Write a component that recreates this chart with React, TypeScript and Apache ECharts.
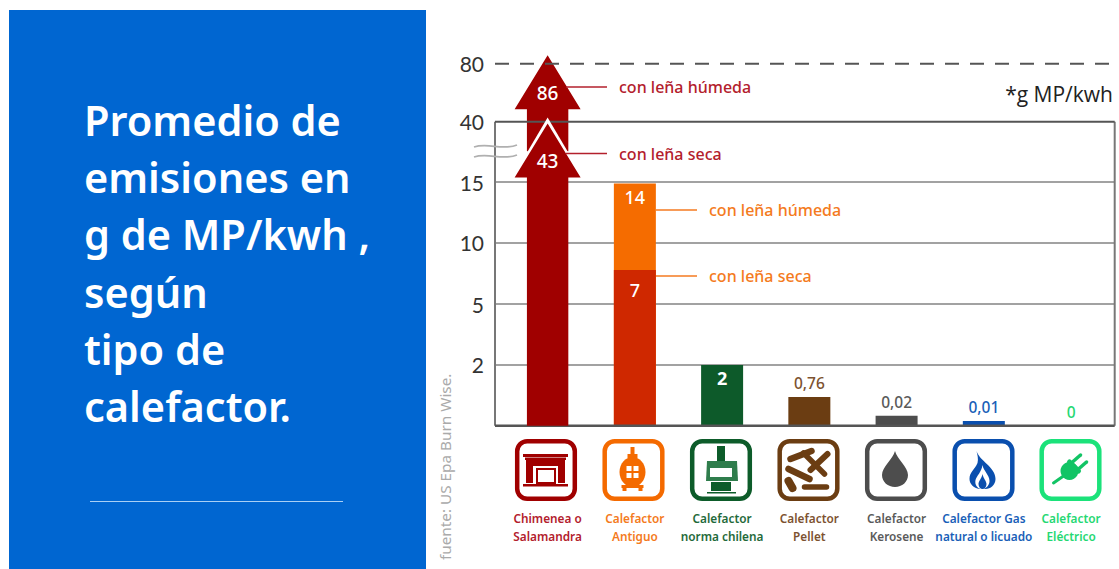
import React, { useEffect, useRef } from "react";
import * as echarts from "echarts";

// Heater types on the horizontal axis
const categories = [
  "Chimenea o\nSalamandra",
  "Calefactor\nAntiguo",
  "Calefactor\nnorma chilena",
  "Calefactor\nPellet",
  "Calefactor\nKerosene",
  "Calefactor Gas\nnatural o licuado",
  "Calefactor\nEléctrico",
];

// Emissions in g MP/kWh
const chimneyArrows = [86, 43];
const wetWoodBars = [null, 14, null, null, null, null, null];
const dryWoodBars = [null, 7, 2, 0.76, 0.02, 0.01, 0];
const tickLabels = [0, 2, 5, 10, 15, 40, 80];

const barColors = ["#a00000", "#cf2800", "#0d5a2a", "#6b3d12", "#4d4d4d", "#0a4fae", "#1fe07a"];
const captionColors = ["#b3202c", "#f47a20", "#1f6a3a", "#7d5230", "#5a5a5a", "#1a5fb8", "#25d872"];
const iconColors = ["#a00000", "#f46a00", "#0d5c2a", "#6b3d12", "#4d4d4d", "#0a4fae", "#1be27a"];

const titleLines = ["Promedio de", "emisiones en", "g de MP/kwh ,", "según", "tipo de", "calefactor."];

// The axis is hand-warped: equal steps for unequal values. Each knot maps a value to axis units.
const scaleKnots: [number, number][] = [
  [0, 0], [0.01, 0.078], [0.02, 0.166], [0.76, 0.476], [2, 1.007], [5, 2.018], [7, 2.582],
  [10, 3.03], [14, 4.015], [15, 4.04], [40, 5.04], [80, 6],
];
function warp(v: number): number {
  for (let i = 1; i < scaleKnots.length; i++) {
    const [a, ua] = scaleKnots[i - 1];
    const [b, ub] = scaleKnots[i];
    if (v <= b || i === scaleKnots.length - 1) return ua + ((v - a) / (b - a)) * (ub - ua);
  }
  return 0;
}

const FONT = '"Noto Sans", sans-serif';
const decimal = (v: number) => String(v).replace(".", ",");

function gridLineItem(stroke: string, width: number, dash?: number[]) {
  return (params: any, api: any) => {
    const y = api.coord([0, api.value(1)])[1];
    const cs = params.coordSys;
    return {
      type: "line",
      shape: { x1: cs.x - 9, y1: y, x2: cs.x + cs.width, y2: y },
      style: { stroke, lineWidth: width, lineDash: dash },
    };
  };
}

// Chimney arrow: the upper one ends in a plain shaft, the lower one carries a white chevron.
function arrowItem(params: any, api: any) {
  const [cx, tipRaw] = api.coord([api.value(0), api.value(1)]);
  const raw = api.value(2);
  const baseline = api.coord([0, 0])[1];
  const headW = 33, shaftW = 20.7, headH = 56;
  const isUpper = params.dataIndex === 0;
  const tip = isUpper ? tipRaw : tipRaw + 6;
  const bottom = isUpper ? tip + 96 : baseline;
  const children: any[] = [];
  if (!isUpper) {
    children.push({
      type: "polygon",
      shape: { points: [[cx, tipRaw], [cx + headW, tipRaw + headH], [cx - headW, tipRaw + headH]] },
      style: { fill: "#ffffff" },
    });
  }
  children.push({
    type: "polygon",
    shape: {
      points: [
        [cx, tip], [cx + headW, tip + headH - 2], [cx + shaftW, tip + headH - 2], [cx + shaftW, bottom],
        [cx - shaftW, bottom], [cx - shaftW, tip + headH - 2], [cx - headW, tip + headH - 2],
      ],
    },
    style: { fill: "#a00000" },
  });
  children.push({
    type: "text",
    style: {
      text: String(raw), x: cx, y: tip + 38, align: "center", verticalAlign: "middle",
      fill: "#ffffff", font: `500 19px ${FONT}`,
    },
  });
  return { type: "group", children };
}

function frameItem(params: any, api: any) {
  const cs = params.coordSys;
  const top = api.coord([0, api.value(1)])[1];
  const bottom = api.coord([0, 0])[1];
  const line = (x: number) => ({
    type: "line",
    shape: { x1: x, y1: top, x2: x, y2: bottom },
    style: { stroke: "#777777", lineWidth: 2 },
  });
  return { type: "group", children: [line(cs.x - 9), line(cs.x + cs.width)] };
}

echarts.graphic.registerShape(
  "heaterDrop",
  echarts.graphic.extendPath("M30 12 C32 20 43 28 43 36 C43 43 37 48 30 48 C23 48 17 43 17 36 C17 28 28 20 30 12 Z", {})
);
echarts.graphic.registerShape(
  "flameOuter",
  echarts.graphic.extendPath("M24 12 C27 22 43 28 43 40 C43 46 38 50 33 50 L27 50 C21 49 17 45 17 40 C17 33 22 31 25 24 C26 20 25 16 24 12 Z", {})
);
echarts.graphic.registerShape(
  "flameMiddle",
  echarts.graphic.extendPath("M30 26 C31 32 37 36 37 42 C37 46 34 49 31 50 L28 50 C25 49 22 46 23 41 C24 37 29 33 30 26 Z", {})
);
echarts.graphic.registerShape(
  "flameInner",
  echarts.graphic.extendPath("M30 35 C31 40 34 42 34 45 C34 48 32 50 30 50 C28 50 26 48 26 45 C26 42 29 40 30 35 Z", {})
);

const rect = (x: number, y: number, width: number, height: number, fill: string, r = 0) => ({
  type: "rect", shape: { x, y, width, height, r }, style: { fill },
});
const stick = (x1: number, y1: number, x2: number, y2: number, stroke: string, lineWidth: number) => ({
  type: "line", shape: { x1, y1, x2, y2 }, style: { stroke, lineWidth, lineCap: "round" },
});

// Pictograms in a 62×62 box
const iconDrawings: ((c: string) => any[])[] = [
  (c) => [
    rect(8, 15, 45, 3, c),
    rect(10, 18.5, 41, 2.5, c),
    rect(11, 21, 7, 23, c),
    rect(43, 21, 7, 23, c),
    rect(18, 21, 25, 6, c),
    { type: "rect", shape: { x: 22, y: 30, width: 18, height: 14 }, style: { fill: "none", stroke: c, lineWidth: 2 } },
    rect(8, 45, 45, 2.5, c),
  ],
  (c) => [
    rect(28, 8, 4, 8, c),
    rect(25, 15, 10, 4, c),
    { type: "ellipse", shape: { cx: 30, cy: 33, rx: 13, ry: 15 }, style: { fill: c } },
    rect(24, 27, 5, 5, "#ffffff"), rect(31, 27, 5, 5, "#ffffff"),
    rect(24, 34, 5, 5, "#ffffff"), rect(31, 34, 5, 5, "#ffffff"),
    rect(19, 46, 22, 3, c),
    rect(20, 49, 4, 3, c), rect(36, 49, 4, 3, c),
  ],
  (c) => [
    rect(27, 7, 8, 15, c),
    { type: "polygon", shape: { points: [[17, 22], [47, 22], [48, 42], [16, 42]] }, style: { fill: "#2f7d4c" } },
    rect(20, 29, 22, 9, "#ffffff"),
    rect(21, 43, 20, 9, c),
    rect(17, 53, 29, 1.5, c),
  ],
  (c) => [
    stick(13, 20, 34, 12, c, 6.5),
    stick(33, 31, 50, 15, c, 6),
    stick(26, 14, 47, 35, c, 5.5),
    stick(11, 30, 32, 40, c, 6.5),
    stick(11, 42, 15, 49, c, 8),
    stick(27, 48, 49, 48, c, 5.5),
  ],
  (c) => [{ type: "heaterDrop", x: 0, y: 0, style: { fill: c } }],
  (c) => [
    { type: "flameOuter", x: 0, y: 0, style: { fill: c } },
    { type: "flameMiddle", x: 0, y: 0, style: { fill: "#ffffff" } },
    { type: "flameInner", x: 0, y: 0, style: { fill: c } },
  ],
  () => {
    const c = "#12c465";
    return [
      stick(14, 44, 24, 37, c, 3),
      { type: "circle", shape: { cx: 30, cy: 32, r: 9 }, style: { fill: c } },
      stick(30, 23, 39, 32, c, 5),
      stick(33, 23, 41, 16, c, 3.5),
      stick(39, 30, 47, 23, c, 3.5),
    ];
  },
];

const iconCenters = [546, 633.5, 721, 808.5, 896, 983.5, 1070.5];
const iconTop = 439;

const iconGraphics = iconDrawings.map((draw, i) => ({
  type: "group",
  x: iconCenters[i] - 31,
  y: iconTop,
  z: 10,
  children: [
    {
      type: "rect",
      shape: { x: 2.2, y: 2.2, width: 57.6, height: 57.6, r: 10 },
      style: { fill: "#ffffff", stroke: iconColors[i], lineWidth: 4.5 },
    },
    ...draw(iconColors[i]),
  ],
}));

const note = (text: string, x: number, y: number, fill: string) => [
  {
    type: "line", z: 10,
    shape: { x1: x - 53, y1: y, x2: x - 12, y2: y },
    style: { stroke: fill, lineWidth: 1.6 },
  },
  {
    type: "text", z: 10, x, y,
    style: { text, fill, font: `500 16px ${FONT}`, verticalAlign: "middle" },
  },
];

const panelGraphics: any[] = [
  { type: "rect", z: 0, shape: { x: 9, y: 10, width: 417, height: 559 }, style: { fill: "#0066d1" } },
  ...titleLines.map((t, i) => ({
    type: "text", z: 1, x: 84, y: 120 + i * 57.2,
    style: { text: t, fill: "#ffffff", font: `600 41.5px ${FONT}`, verticalAlign: "middle" },
  })),
  { type: "line", z: 1, shape: { x1: 90, y1: 501.5, x2: 343, y2: 501.5 }, style: { stroke: "#a9d0f5", lineWidth: 1 } },
];

const wave = (y: number) => ({
  type: "bezierCurve", z: 10,
  shape: { x1: 474, y1: y + 1, cpx1: 488, cpy1: y - 4, cpx2: 502, cpy2: y + 5, x2: 517, y2: y - 1 },
  style: { stroke: "#b0b0b0", lineWidth: 1.8, fill: "none" },
});

export default function App() {
  const ref = useRef<HTMLDivElement>(null);

  useEffect(() => {
    document.body.style.margin = "0";
    const chart = echarts.init(ref.current!, null, { renderer: "svg" });
    const restLines = tickLabels.filter((v) => v > 0 && v < 40).map((v) => [0, warp(v)]);

    const dryData = dryWoodBars.map((v, i) => {
      if (v === null) return "-";
      const big = v >= 1;
      return {
        value: warp(v),
        itemStyle: { color: barColors[i] },
        label: big
          ? { show: true, position: "insideTop", distance: v === 2 ? 4 : 11, color: "#ffffff", fontSize: 18, fontWeight: v === 2 ? 700 : 500, fontFamily: FONT }
          : { show: true, position: "top", distance: 6, color: captionColors[i], fontSize: 15.5, fontWeight: 500, fontFamily: FONT },
      };
    });

    chart.setOption({
      animation: false,
      backgroundColor: "#ffffff",
      grid: { left: 504, top: 51.8, width: 610.7, height: 373.9 },
      xAxis: {
        type: "category",
        data: categories.map((value, i) => ({
          value,
          textStyle: { color: captionColors[i] },
        })),
        axisLine: { show: false },
        axisTick: { show: false },
        axisLabel: {
          interval: 0, margin: 83, fontFamily: FONT, fontSize: 11.8, fontWeight: 600, lineHeight: 18,
        },
      },
      yAxis: {
        type: "value",
        min: 0,
        max: 6.2,
        axisLine: { show: false },
        axisTick: { show: false },
        splitLine: { show: false },
        axisLabel: {
          margin: 20,
          fontFamily: '"Lato", sans-serif',
          fontSize: 21,
          color: "#333333",
          customValues: tickLabels.filter((v) => v > 0).map(warp),
          formatter: (u: number) => {
            const t = tickLabels.find((v) => Math.abs(warp(v) - u) < 1e-6);
            return t === undefined ? "" : String(t);
          },
        },
      },
      series: [
        {
          type: "custom", z: 1, silent: true, data: restLines,
          renderItem: gridLineItem("#a2a2a2", 2),
        },
        {
          type: "custom", z: 1, silent: true, data: [[0, warp(40)]],
          renderItem: frameItem,
        },
        {
          name: "con leña húmeda",
          type: "bar", z: 2, barWidth: 42, barGap: "-100%",
          itemStyle: { color: "#f56c00" },
          data: wetWoodBars.map((v) => (v === null ? "-" : warp(v))),
          label: {
            show: true, position: "insideTop", distance: 4, color: "#ffffff", fontSize: 18, fontWeight: 500, fontFamily: FONT,
            formatter: (p: any) => String(wetWoodBars[p.dataIndex]),
          },
        },
        {
          name: "con leña seca",
          type: "bar", z: 3, barWidth: 42, barGap: "-100%",
          data: dryData,
          label: { formatter: (p: any) => decimal(dryWoodBars[p.dataIndex] as number) },
        },
        {
          type: "custom", z: 4, silent: true,
          data: [[0, warp(chimneyArrows[0]), chimneyArrows[0]]],
          renderItem: (p: any, api: any) => arrowItem({ ...p, dataIndex: 0 }, api),
        },
        {
          type: "custom", z: 5, silent: true, data: [[0, warp(40)]],
          renderItem: gridLineItem("#555555", 2),
        },
        {
          type: "custom", z: 5, silent: true, data: [[0, warp(80)]],
          renderItem: gridLineItem("#555555", 2, [14, 11]),
        },
        {
          type: "custom", z: 5, silent: true, data: [[0, warp(0)]],
          renderItem: gridLineItem("#555555", 2.5),
        },
        {
          type: "custom", z: 6, silent: true,
          data: [[0, warp(chimneyArrows[1]), chimneyArrows[1]]],
          renderItem: (p: any, api: any) => arrowItem({ ...p, dataIndex: 1 }, api),
        },
      ],
      graphic: [
        ...panelGraphics,
        ...note("con leña húmeda", 619, 87, "#b3202c"),
        ...note("con leña seca", 619, 153.5, "#b3202c"),
        ...note("con leña húmeda", 709, 210, "#f47a20"),
        ...note("con leña seca", 709, 276, "#f47a20"),
        wave(146),
        wave(156),
        {
          type: "text", z: 10, x: 1113, y: 94,
          style: { text: "*g MP/kwh", fill: "#222222", font: `400 21px "Open Sans", sans-serif`, align: "right", verticalAlign: "middle" },
        },
        {
          type: "text", z: 10, x: 445, y: 560, rotation: Math.PI / 2,
          style: { text: "fuente: US Epa Burn Wise.", fill: "#aaaaaa", font: `400 15.3px ${FONT}`, verticalAlign: "middle" },
        },
        ...iconGraphics,
      ],
    });
    return () => chart.dispose();
  }, []);

  return <div ref={ref} style={{ position: "absolute", left: 0, top: 0, width: 1119, height: 569 }} />;
}
